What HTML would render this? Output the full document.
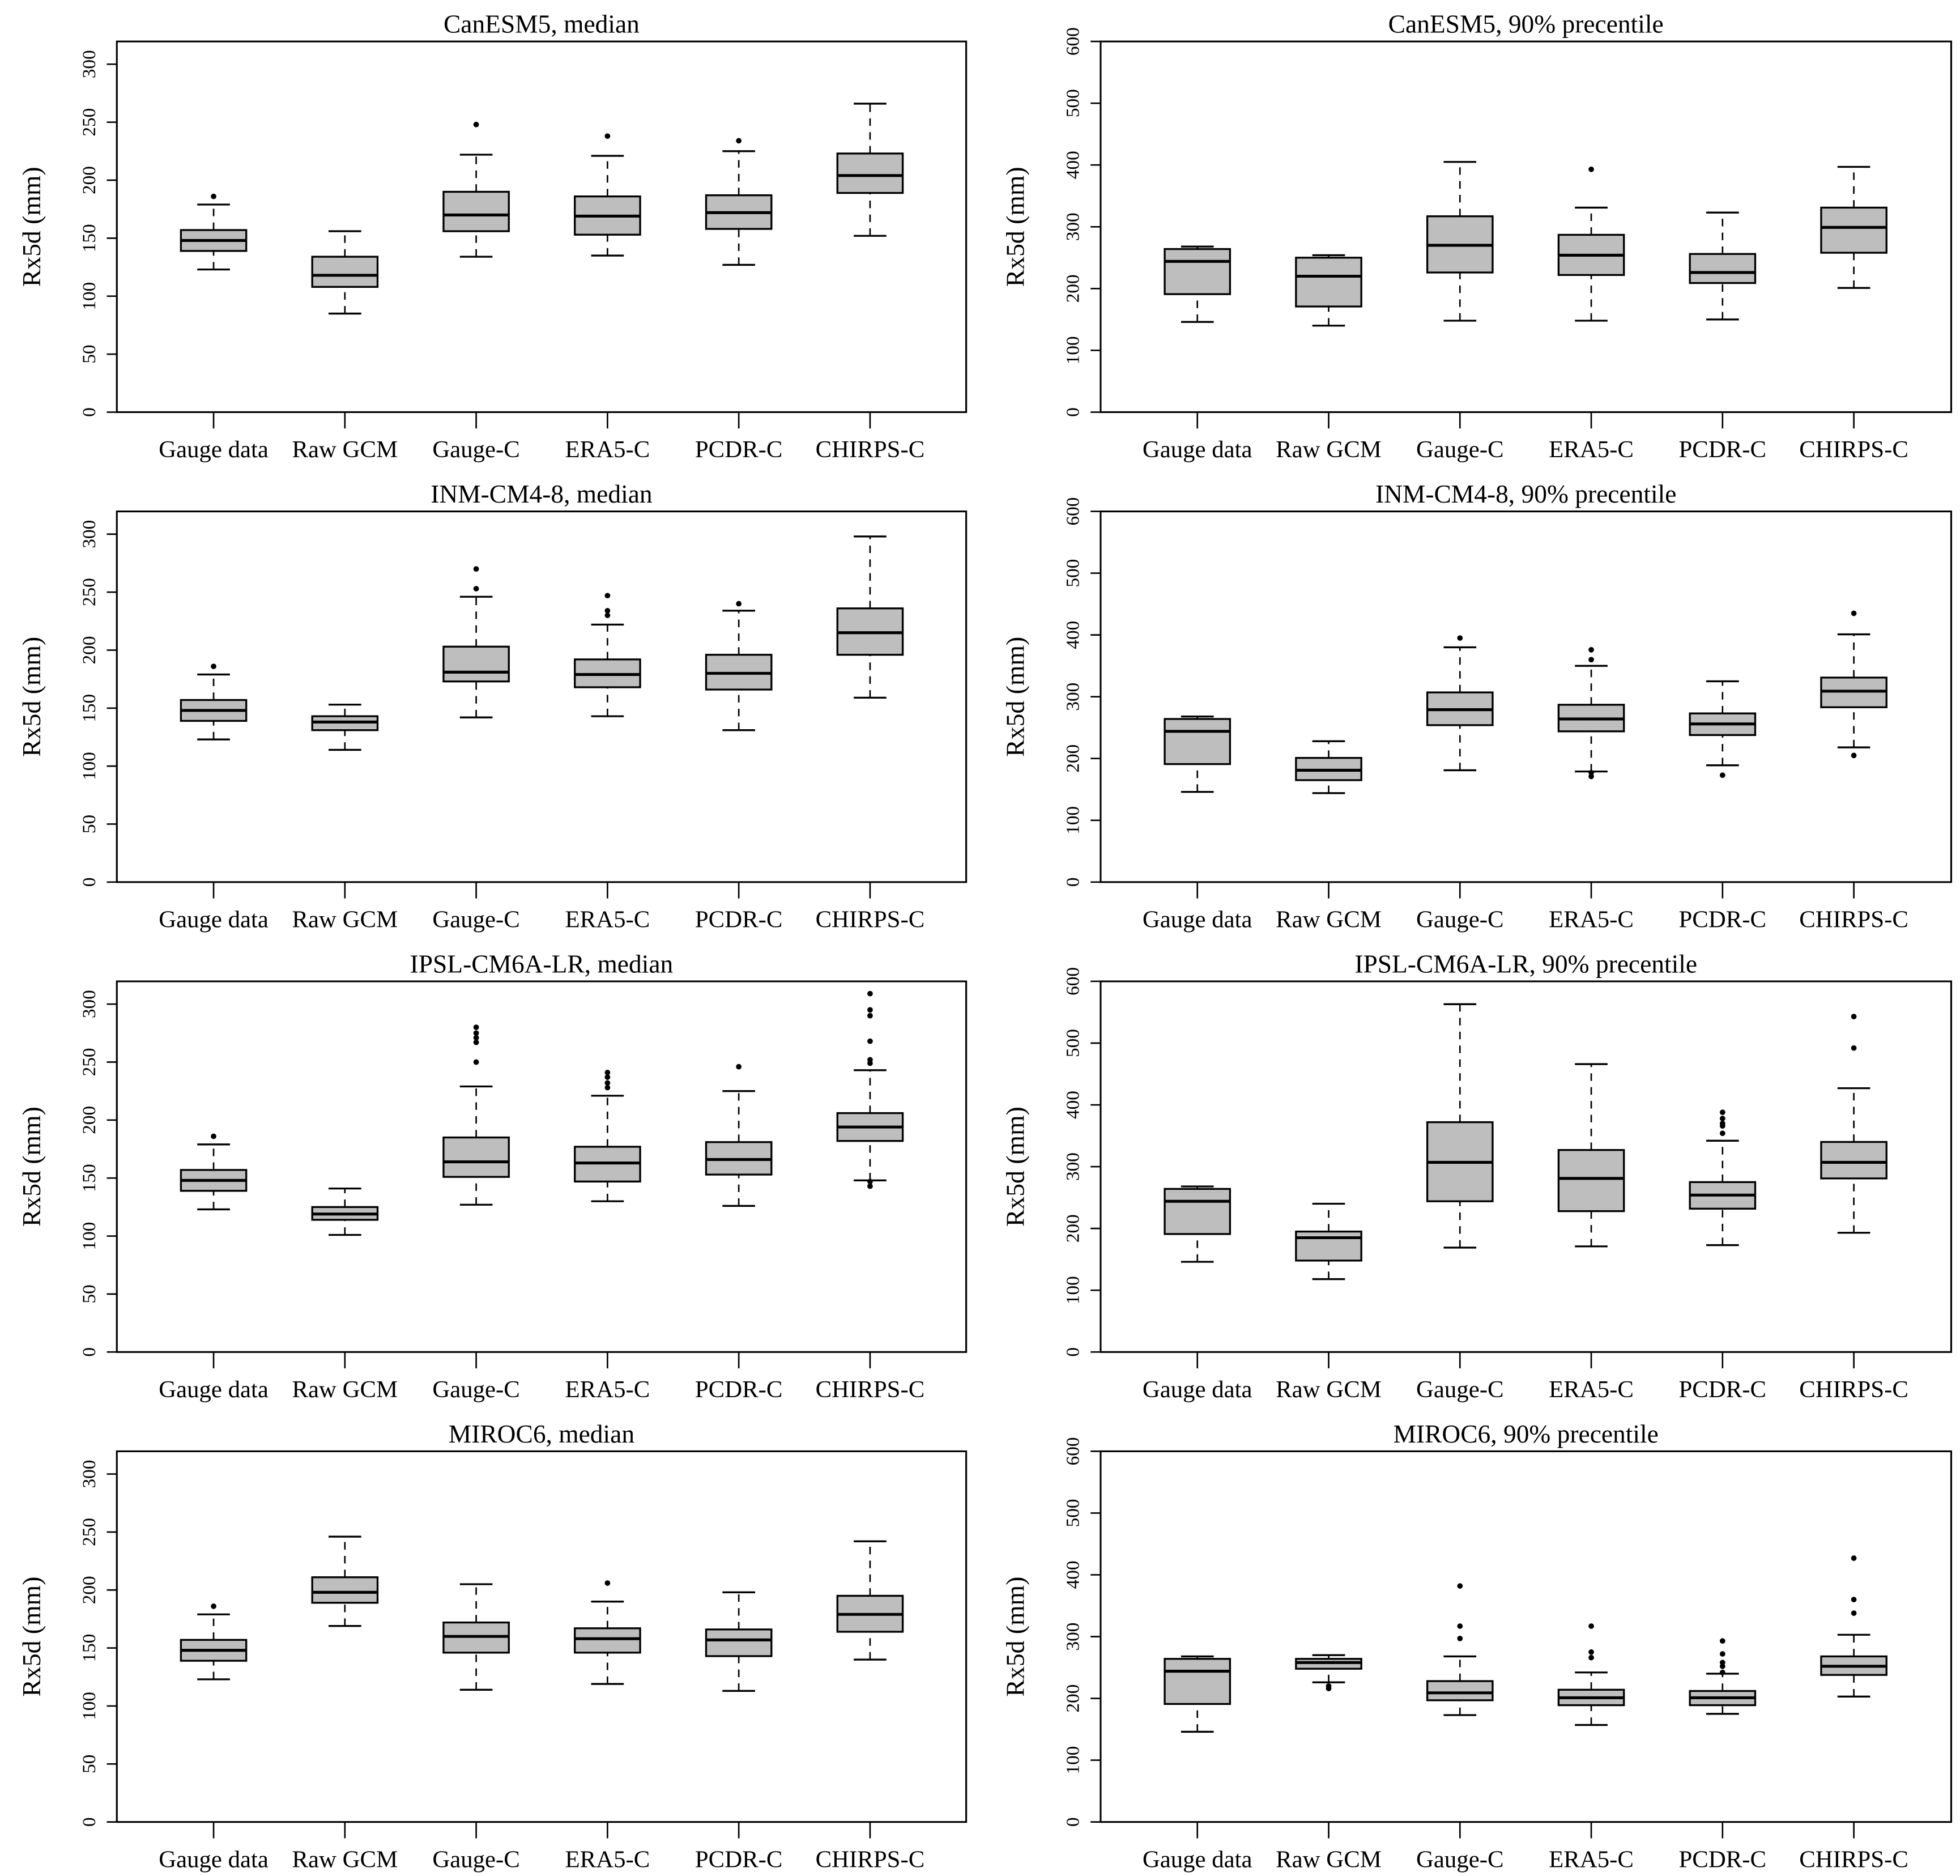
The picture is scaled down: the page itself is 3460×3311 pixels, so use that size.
<!DOCTYPE html>
<html><head><meta charset="utf-8"><style>
html,body{margin:0;padding:0;background:#fff;}
svg{display:block;}
text{font-family:"Liberation Serif",serif;fill:#000;}
</style></head><body>
<svg id="chart" width="3460" height="3311" viewBox="0 0 1560 1493" preserveAspectRatio="none" xmlns="http://www.w3.org/2000/svg"></svg>
<script>
const categories = ["Gauge data","Raw GCM","Gauge-C","ERA5-C","PCDR-C","CHIRPS-C"];
const panelTitles = ["CanESM5, median","CanESM5, 90% precentile","INM-CM4-8, median","INM-CM4-8, 90% precentile","IPSL-CM6A-LR, median","IPSL-CM6A-LR, 90% precentile","MIROC6, median","MIROC6, 90% precentile"];
const medianTicks = [0,50,100,150,200,250,300];
const p90Ticks = [0,100,200,300,400,500,600];
// stats per category: [lowerWhisker, q1, median, q3, upperWhisker]
const canMedStats = [[123,139,148,157,179],[85,108,118,134,156],[134,156,170,190,222],[135,153,169,186,221],[127,158,172,187,225],[152,189,204,223,266]];
const canMedOut = [[186],[],[248],[238],[234],[]];
const can90Stats = [[146,191,244,264,268],[140,171,220,250,254],[148,226,270,317,405],[148,222,254,287,331],[150,209,226,256,323],[201,258,299,331,397]];
const can90Out = [[],[],[],[393],[],[]];
const inmMedStats = [[123,139,148,157,179],[114,131,138,143,153],[142,173,181,203,246],[143,168,179,192,222],[131,166,180,196,234],[159,196,215,236,298]];
const inmMedOut = [[186],[],[253,270],[230,234,247],[240],[]];
const inm90Stats = [[146,191,244,264,268],[144,165,181,201,228],[181,254,279,307,380],[179,244,264,287,350],[189,238,256,273,325],[218,283,309,331,401]];
const inm90Out = [[],[],[395],[171,177,360,376],[173],[205,435]];
const ipslMedStats = [[123,139,148,157,179],[101,114,119,125,141],[127,151,164,185,229],[130,147,163,177,221],[126,153,166,181,225],[148,182,194,206,243]];
const ipslMedOut = [[186],[],[250,267,271,275,280],[228,232,237,241],[246],[143,147,249,252,268,290,295,309]];
const ipsl90Stats = [[146,191,244,264,268],[118,148,185,195,240],[169,244,307,372,563],[171,228,281,327,466],[173,232,254,275,342],[193,281,307,340,427]];
const ipsl90Out = [[],[],[],[],[354,366,370,378,388],[492,543]];
const mirMedStats = [[123,139,148,157,179],[169,189,198,211,246],[114,146,160,172,205],[119,146,158,167,190],[113,143,157,166,198],[140,164,179,195,242]];
const mirMedOut = [[186],[],[],[206],[],[]];
const mir90Stats = [[146,191,244,264,268],[226,248,258,264,270],[173,197,209,228,268],[157,189,201,214,242],[175,189,201,212,240],[203,238,252,268,303]];
const mir90Out = [[],[216,220],[297,317,382],[266,275,317],[242,252,258,272,293],[338,360,427]];

const statsList=[canMedStats,can90Stats,inmMedStats,inm90Stats,ipslMedStats,ipsl90Stats,mirMedStats,mir90Stats];
const outList=[canMedOut,can90Out,inmMedOut,inm90Out,ipslMedOut,ipsl90Out,mirMedOut,mir90Out];

const NS="http://www.w3.org/2000/svg";
const svg=document.getElementById('chart');
function mk(tag,attrs,parent){const e=document.createElementNS(NS,tag);for(const k in attrs)e.setAttribute(k,attrs[k]);(parent||svg).appendChild(e);return e;}

for(let p=0;p<8;p++){
  const col=p%2,row=Math.floor(p/2);
  const left=col?876:93,right=col?1553:769;
  const top=33+row*374,bottom=328+row*374;
  const isMed=col===0;
  const ticks=isMed?medianTicks:p90Ticks;
  const k=isMed?0.923:0.4917;
  const yS=v=>bottom-v*k;
  const xS=i=>left+77+i*104.5;
  const g=mk('g',{});
  
  
  const t=mk('text',{x:(left+right)/2,y:top-7,'text-anchor':'middle','font-size':20.5},g);
  t.textContent=panelTitles[p];
  
  
  const fr=mk('rect',{x:left,y:top,width:right-left,height:bottom-top,fill:'none',stroke:'#000','stroke-width':1.4},g);
  
  
  mk('line',{x1:left,x2:left,y1:yS(ticks[0]),y2:yS(ticks[ticks.length-1]),stroke:'#000','stroke-width':1.2},g);
  ticks.forEach(v=>{
    mk('line',{x1:left-8,x2:left,y1:yS(v),y2:yS(v),stroke:'#000','stroke-width':1.2},g);
    const tl=mk('text',{x:0,y:0,transform:`translate(${left-22},${yS(v)}) rotate(-90)`,'text-anchor':'middle','dominant-baseline':'central','font-size':15},g);
    tl.textContent=v;
    
    
  });
  const yt=mk('text',{x:0,y:0,transform:`translate(${left-68},${(top+bottom)/2}) rotate(-90)`,'text-anchor':'middle','dominant-baseline':'central','font-size':20.6},g);
  yt.textContent='Rx5d (mm)';
  
  
  const st=statsList[p],ou=outList[p];
  categories.forEach((c,i)=>{
    const x=xS(i);
    mk('line',{x1:x,x2:x,y1:bottom,y2:bottom+13,stroke:'#000','stroke-width':1.2},g);
    const xl=mk('text',{x:x,y:bottom+36,'text-anchor':'middle','font-size':19.3},g);
    xl.textContent=c;
    
    
    const s=st[i];
    const bg=mk('g',{},g);
    
    
    mk('line',{x1:x,x2:x,y1:yS(s[0]),y2:yS(s[1]),stroke:'#000','stroke-width':1.2,'stroke-dasharray':'6,5'},bg);
    mk('line',{x1:x,x2:x,y1:yS(s[3]),y2:yS(s[4]),stroke:'#000','stroke-width':1.2,'stroke-dasharray':'6,5'},bg);
    mk('line',{x1:x-13,x2:x+13,y1:yS(s[0]),y2:yS(s[0]),stroke:'#000','stroke-width':1.5},bg);
    mk('line',{x1:x-13,x2:x+13,y1:yS(s[4]),y2:yS(s[4]),stroke:'#000','stroke-width':1.5},bg);
    mk('rect',{x:x-26,y:yS(s[3]),width:52,height:yS(s[1])-yS(s[3]),fill:'#bebebe',stroke:'#000','stroke-width':1.5},bg);
    mk('line',{x1:x-26,x2:x+26,y1:yS(s[2]),y2:yS(s[2]),stroke:'#000','stroke-width':2.3},bg);
    ou[i].forEach(v=>{
      const d=mk('circle',{cx:x,cy:yS(v),r:2.2,fill:'#000'},bg);
      
      
    });
  });
}
</script>
</body></html>
